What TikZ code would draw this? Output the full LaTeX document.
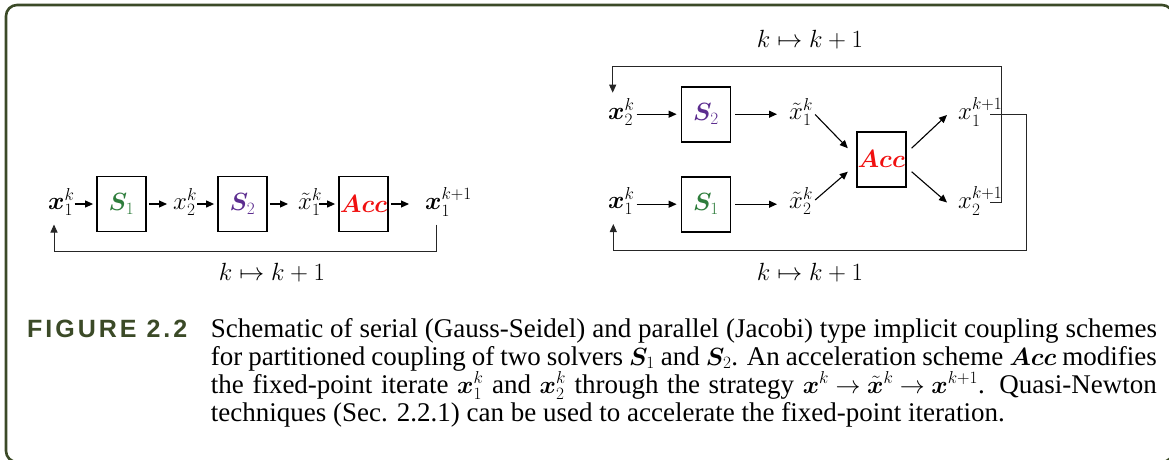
\documentclass[tikz,border=0pt]{standalone}
\usepackage{amsmath,bm}
\usepackage{fontspec}
\setmainfont{Liberation Serif}
\newfontfamily\figlabelfont[LetterSpace=12]{Liberation Sans}
\usetikzlibrary{arrows.meta,calc}
\definecolor{frameolive}{HTML}{3B4A27}
\definecolor{solvgreen}{HTML}{2E7D3C}
\definecolor{solvpurple}{HTML}{5C2D8F}
\definecolor{accred}{HTML}{F01010}

\begin{document}
\begin{tikzpicture}[x=1pt, y=-1pt,
    font=\fontsize{26}{30}\selectfont, >={Triangle[length=8pt,width=7pt]},
    solver/.style={draw, line width=1.8pt, minimum width=49pt,
                   minimum height=55pt, inner sep=0pt, text=#1},
    var/.style={inner sep=0pt, anchor=base west},
    arr/.style={->, line width=1.1pt},
    fb/.style={->, line width=0.9pt, black!85}]
  \clip (0,0) rectangle (1169,459);
  \draw[frameolive, line width=2.6pt, rounded corners=11pt] (6,5) rectangle (1173,462);

  %% Serial (Gauss-Seidel) scheme
  \node[var] (lxk) at (48,209.5) {$\bm{x}_1^k$};
  \node[solver=solvgreen] (ls1) at (121.5,204) {$\bm{S}_1$};
  \node[var] (lx2) at (173,209.5) {$x_2^k$};
  \node[solver=solvpurple] (ls2) at (242.5,204) {$\bm{S}_2$};
  \node[var] (lxt) at (298,209.5) {$\tilde{x}_1^k$};
  \node[solver=accred] (lacc) at (363.5,204) {$\bm{Acc}$};
  \node[var] (lxn) at (425,209.5) {$\bm{x}_1^{k+1}$};
  \node (lkk) at (272,273) {$k \mapsto k+1$};
  \foreach \a/\b/\s in {lxk/ls1/0pt,lx2/ls2/0pt,lxt/lacc/-3pt}
    \draw[arr, shorten <=\s, shorten >=3pt] (\a.east |- \b.west) -- (\b.west);
  \foreach \a/\b/\e in {ls1/lx2/6pt,ls2/lxt/10pt,lacc/lxn/16pt}
    \draw[arr, shorten <=2pt, shorten >=\e] (\a.east) -- (\a.east -| \b.west);
  \draw[fb] ($(lxn.base west)+(11,15)$) -- ++(0,26.5) -| ($(lxk.base west)+(6,15)$);

  %% Parallel (Jacobi) scheme
  \node[var] (rx2) at (608,119.5) {$\bm{x}_2^k$};
  \node[solver=solvpurple] (rs2) at (706,114.2) {$\bm{S}_2$};
  \node[var] (rxt1) at (789,119.5) {$\tilde{x}_1^k$};
  \node[var] (rx1) at (608,208.5) {$\bm{x}_1^k$};
  \node[solver=solvgreen] (rs1) at (706,204.2) {$\bm{S}_1$};
  \node[var] (rxt2) at (789,208.5) {$\tilde{x}_2^k$};
  \node[solver=accred] (racc) at (881.2,159.2) {$\bm{Acc}$};
  \node[var] (rxn1) at (958,119.5) {$x_1^{k+1}$};
  \node[var] (rxn2) at (958,208.5) {$x_2^{k+1}$};
  \node (rtop) at (810,40) {$k \mapsto k+1$};
  \node (rbot) at (810,273) {$k \mapsto k+1$};
  \coordinate (ttop) at (1001.7,66.7);
  \coordinate (bcorner) at (1026,250.7);
  \foreach \a/\b/\c in {rx2/rs2/rxt1,rx1/rs1/rxt2}{
    \draw[arr, shorten <=2pt, shorten >=4pt] (\a.east |- \b.west) -- (\b.west);
    \draw[arr, shorten <=4pt, shorten >=12pt] (\b.east) -- (\b.east -| \c.west);
  }
  \draw[arr] ($(rxt1.base east)+(2,-5)$) -- ($(racc.west)+(-8,-11)$);
  \draw[arr] ($(rxt2.base east)+(2,-8.5)$) -- ($(racc.west)+(-8,12.5)$);
  \draw[arr] ($(racc.east)+(5,-11)$) -- ($(rxn1.base west)+(-11,-4.5)$);
  \draw[arr] ($(racc.east)+(5,12.5)$) -- ($(rxn2.base west)+(-11,-6)$);
  \draw[fb] ($(rxn2.base west)+(32,-5.8)$) -| (ttop) -| ($(rx2.base west)+(4.7,-26.8)$);
  \draw[fb] ($(rxn1.base west)+(32,-5.2)$) -| (bcorner) -| ($(rx1.base west)+(5.3,15.5)$);

  %% Caption
  \node[anchor=base west, inner sep=0pt, text=frameolive,
        font=\figlabelfont\bfseries\fontsize{25}{30}\selectfont] (figlab) at (27,337) {FIGURE 2.2};
  \node[anchor=base west, inner sep=0pt, text width=946pt, align=justify,
        font=\fontsize{27}{28}\selectfont] (capt) at (210.7,337)
    {Schematic of serial (Gauss-Seidel) and parallel (Jacobi) type implicit coupling schemes\linebreak
     for partitioned coupling of two solvers $\bm{S}_1$ and $\bm{S}_2$. An acceleration scheme $\bm{Acc}$ modifies\linebreak
     the fixed-point iterate $\bm{x}_1^k$ and $\bm{x}_2^k$ through the strategy $\bm{x}^k\!\rightarrow\!\tilde{\bm{x}}^k\!\rightarrow\!\bm{x}^{k+1}$. Quasi-Newton\linebreak
     techniques (Sec. 2.2.1) can be used to accelerate the fixed-point iteration.};
\end{tikzpicture}
\end{document}
